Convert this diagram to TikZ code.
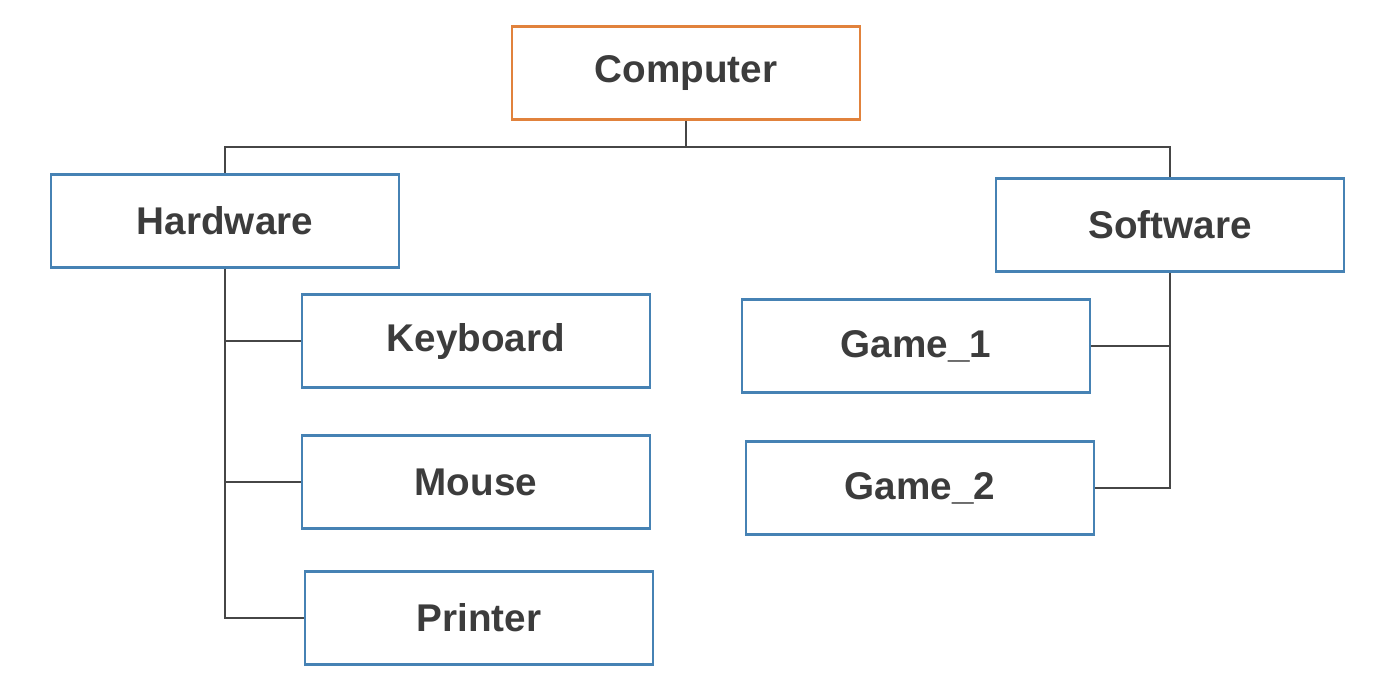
\documentclass[tikz,border=0pt]{standalone}
\usepackage{fontspec}
\setmainfont{Liberation Sans}
\definecolor{boxblue}{RGB}{70,130,180}
\definecolor{boxorange}{RGB}{225,130,60}
\definecolor{txtgray}{RGB}{60,60,60}
\definecolor{linegray}{RGB}{70,70,70}
\tikzset{
  box/.style={draw=boxblue, line width=1.6pt, minimum width=6.96cm, minimum height=1.86cm,
    text=txtgray, font=\fontsize{22}{26}\selectfont\bfseries},
  link/.style={draw=linegray, line width=1.4pt}
}
\begin{document}
\begin{tikzpicture}[x=0.02cm, y=-0.02cm]
\useasboundingbox (0,0) rectangle (1396,694);

% top
\node[box, draw=boxorange] (comp) at (686,73) {Computer};
\node[box] (hw) at (225,221) {Hardware};
\node[box] (sw) at (1170,225) {Software};

% hardware parts
\node[box] (kb) at (476,341) {Keyboard};
\node[box] (ms) at (476,482) {Mouse};
\node[box] (pr) at (479,618) {Printer};

% software parts
\node[box] (ga) at (916,346) {Game\_1};
\node[box] (gb) at (920,488) {Game\_2};

\coordinate (split) at (686,147);
\draw[link] (comp.south) -- (split);
\draw[link] (split) -| (hw.north);
\draw[link] (split) -| (sw.north);

\foreach \n in {kb, ms, pr}
  \draw[link] (hw.south) |- (\n.west);
\foreach \n in {ga, gb}
  \draw[link] (sw.south) |- (\n.east);

\end{tikzpicture}
\end{document}
